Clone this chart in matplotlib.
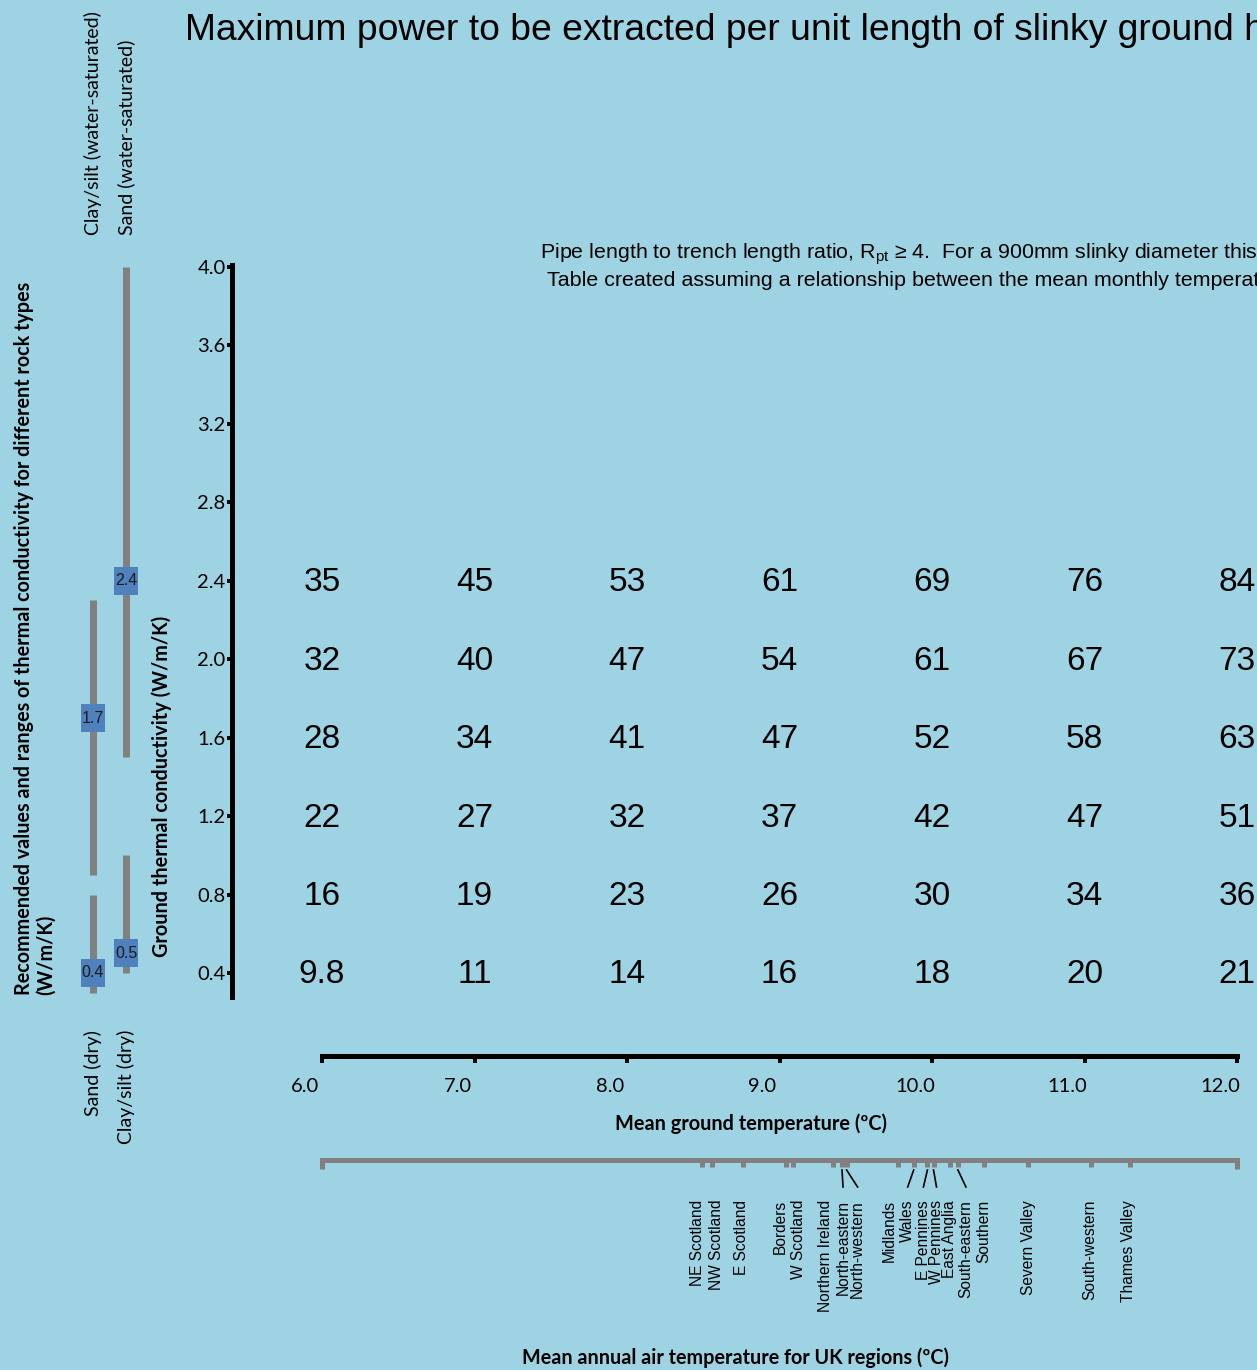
import matplotlib
matplotlib.use("Agg")
import matplotlib.pyplot as plt
from matplotlib import transforms
from matplotlib.patches import Rectangle

# ground thermal conductivity rows (W/m/K) and mean ground temperature columns (degC)
conductivity = [2.4, 2.0, 1.6, 1.2, 0.8, 0.4]
ground_temp = [6.0, 7.0, 8.0, 9.0, 10.0, 11.0, 12.0]

# max power per unit length of slinky (W/m), one row per conductivity
power = [
    [35, 45, 53, 61, 69, 76, 84],
    [32, 40, 47, 54, 61, 67, 73],
    [28, 34, 41, 47, 52, 58, 63],
    [22, 27, 32, 37, 42, 47, 51],
    [16, 19, 23, 26, 30, 34, 36],
    [9.8, 11, 14, 16, 18, 20, 21],
]

# rock types: column, low, high, recommended
rock_names = ["Sand (dry)", "Clay/silt (water-saturated)", "Clay/silt (dry)", "Sand (water-saturated)"]
rock_col = [0, 0, 1, 1]
rock_low = [0.3, 0.9, 0.4, 1.5]
rock_high = [0.8, 2.3, 1.0, 4.0]
rock_rec = [0.4, 1.7, 0.5, 2.4]

# UK regions and mean annual air temperature (degC)
regions = ["NE Scotland", "NW Scotland", "E Scotland", "Borders", "W Scotland",
           "Northern Ireland", "North-eastern", "North-western", "Midlands", "Wales",
           "E Pennines", "W Pennines", "East Anglia", "South-eastern", "Southern",
           "Severn Valley", "South-western", "Thames Valley"]
air_temp = [7.49, 7.56, 7.76, 8.04, 8.09, 8.35, 8.41, 8.44, 8.78, 8.88,
            8.97, 9.01, 9.12, 9.17, 9.34, 9.63, 10.04, 10.30]
# label nudges in pixels and which ones get a leader line
label_dx = [-4, 4, -1, -5, 5, -7, 1, 11, -9, -6, -4, 3, -1, 8, 0, 0, -1, -2]
leader = [False, False, False, False, False, False, True, True, False, True,
          True, True, False, True, False, False, False, False]

W, H = 1257, 1370
bg = "#9dd3e2"
calibri = ["Lato", "DejaVu Sans"]
arial = ["Liberation Sans", "DejaVu Sans"]
plt.rcParams["mathtext.fontset"] = "custom"
plt.rcParams["mathtext.rm"] = "Liberation Sans"

fig = plt.figure(figsize=(W / 100, H / 100), dpi=100, facecolor=bg)


def fx(x):
    return x / W


def fy(y):
    return 1 - y / H


def px(n):
    return n * 0.72


# main table axes: 6.0 degC at x=322, 152.5 px per degree; 0.4 at y=973, 196 px per unit
deg = 152.5
unit = 196.1
xlim = (6 - (322 - 232) / deg, 6 + (W - 322) / deg)
ylim = (0.4 - (997 - 973) / unit, 4.0 + (267 - 265) / unit)

ax = fig.add_axes([fx(232), fy(997), (W - 232) / W, (997 - 265) / H])
ax.set_xlim(*xlim)
ax.set_ylim(*ylim)
ax.patch.set_visible(False)
for s in ["top", "right", "bottom"]:
    ax.spines[s].set_visible(False)
ax.spines["left"].set_linewidth(px(5))
ax.set_xticks([])
ax.set_yticks([0.4, 0.8, 1.2, 1.6, 2.0, 2.4, 2.8, 3.2, 3.6, 4.0])
ax.set_yticklabels([f"{v:.1f}" for v in ax.get_yticks()], family=calibri, fontsize=14.5)
ax.tick_params(axis="y", direction="out", length=px(5), width=px(4), pad=1)

for i, k in enumerate(conductivity):
    for j, t in enumerate(ground_temp):
        ax.text(t, k - 0.01, f"{power[i][j]:g}", ha="center", va="center",
                fontsize=24, family=arial, clip_on=False)

# rock type ranges on the left
ax_r = fig.add_axes([fx(60), fy(997), 100 / W, (997 - 265) / H])
ax_r.set_xlim(-1, 2.03)
ax_r.set_ylim(*ylim)
ax_r.axis("off")
ax_r.vlines(rock_col, rock_low, rock_high, color="#808080", lw=px(7))
bw, bh = 24 / 33, 28 / unit
for c, r in zip(rock_col, rock_rec):
    ax_r.add_patch(Rectangle((c - bw / 2, r - bh / 2), bw, bh, fc="#4f81bd", ec="none", zorder=3))
    ax_r.text(c, r, f"{r}", ha="center", va="center", fontsize=11.5, family=arial,
              color="#1a1a1a", zorder=4)
for name, c, lo in zip(rock_names, rock_col, rock_low):
    if lo < 0.5:
        ax_r.annotate(name, xy=(c, 0), xycoords=("data", "axes fraction"),
                      xytext=(0, -px(33)), textcoords="offset points",
                      rotation=90, ha="center", va="top", fontsize=14, family=calibri)
    else:
        ax_r.annotate(name, xy=(c, 1), xycoords=("data", "axes fraction"),
                      xytext=(0, px(30)), textcoords="offset points",
                      rotation=90, ha="center", va="bottom", fontsize=14, family=calibri)

# mean ground temperature scale
ax_g = fig.add_axes([fx(322), fy(1056), (1237 - 322) / W, 0.0001])
ax_g.set_xlim(6, 12)
ax_g.patch.set_visible(False)
for s in ["top", "right", "left"]:
    ax_g.spines[s].set_visible(False)
ax_g.spines["bottom"].set_linewidth(px(5))
ax_g.set_yticks([])
ax_g.set_xticks(ground_temp)
ax_g.set_xticklabels([f"{t:.1f}" for t in ground_temp], family=calibri, fontsize=14.5)
ax_g.tick_params(axis="x", direction="out", length=px(7), width=px(4), pad=px(15))
shift = transforms.ScaledTranslation(-0.17, 0, fig.dpi_scale_trans)
for lab in ax_g.get_xticklabels():
    lab.set_transform(lab.get_transform() + shift)

fig.text(fx(751), fy(1124), "Mean ground temperature (\u00baC)", ha="center", va="center",
         fontsize=14.3, fontweight="bold", family=calibri)

# air temperature scale with UK regions
grey = "#808080"
ax_a = fig.add_axes([fx(322), fy(1160), (1237 - 322) / W, 0.0001])
ax_a.set_xlim(5, 11)
ax_a.patch.set_visible(False)
for s in ["top", "right", "left"]:
    ax_a.spines[s].set_visible(False)
ax_a.spines["bottom"].set_linewidth(px(5))
ax_a.spines["bottom"].set_color(grey)
ax_a.set_yticks([])
ax_a.set_xticks(air_temp)
ax_a.set_xticklabels([])
ax_a.tick_params(axis="x", direction="out", length=px(7), width=px(5), color=grey)
ax_a.set_xticks([5, 11], minor=True)
ax_a.tick_params(axis="x", which="minor", direction="out", length=px(9), width=px(5), color=grey)

base = transforms.blended_transform_factory(ax_a.transData, ax_a.transAxes)
for name, t, dx, lead in zip(regions, air_temp, label_dx, leader):
    off = transforms.ScaledTranslation(dx / 100, -40 / 100, fig.dpi_scale_trans)
    ax_a.text(t, 0, name, transform=base + off, rotation=90, ha="center", va="top",
              fontsize=11.2, family=arial)
    if lead:
        l0 = transforms.ScaledTranslation(0, -10 / 100, fig.dpi_scale_trans)
        l1 = transforms.ScaledTranslation(dx / 100, -27 / 100, fig.dpi_scale_trans)
        p0 = (base + l0).transform((t, 0))
        p1 = (base + l1).transform((t, 0))
        fig.add_artist(plt.Line2D([p0[0] / W, p1[0] / W], [p0[1] / H, p1[1] / H],
                                  color="black", lw=1.2, transform=fig.transFigure))

fig.text(fx(735), fy(1358), "Mean annual air temperature for UK regions (\u00baC)",
         ha="center", va="center", fontsize=14.2, fontweight="bold", family=calibri)

# axis titles on the left
fig.text(fx(35), fy(995),
         "Recommended values and ranges of thermal conductivity for different rock types\n(W/m/K)",
         rotation=90, ha="center", va="bottom", multialignment="left", fontsize=14.2,
         fontweight="bold", family=calibri, linespacing=1.15)
fig.text(fx(162), fy(786), "Ground thermal conductivity (W/m/K)", rotation=90,
         ha="center", va="center", fontsize=14.3, fontweight="bold", family=calibri)

# title and notes
fig.text(fx(185), fy(30),
         "Maximum power to be extracted per unit length of slinky ground heat exchanger",
         ha="left", va="center", fontsize=26.8, family=arial)
fig.text(fx(540), fy(254),
         "Pipe length to trench length ratio, R$_{\\mathregular{pt}}$ \u2265 4.  For a 900mm slinky diameter this",
         ha="left", va="center", fontsize=15.4, family=arial)
fig.text(fx(547), fy(280),
         "Table created assuming a relationship between the mean monthly temperature",
         ha="left", va="center", fontsize=15.4, family=arial)

fig.savefig("out.png", dpi=100, facecolor=bg)
